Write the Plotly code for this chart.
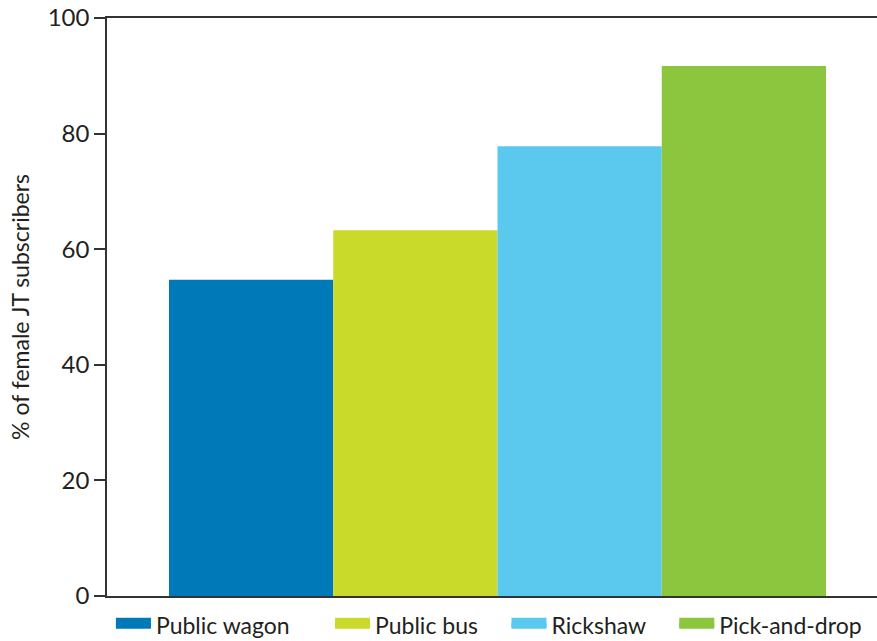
import plotly.graph_objects as go

categories = ["Public wagon", "Public bus", "Rickshaw", "Pick-and-drop"]
values = [54.7, 63.3, 77.8, 91.7]
colors = ["#0079B8", "#C9DA2A", "#5BC9EE", "#8CC63F"]
y_ticks = [0, 20, 40, 60, 80, 100]
legend_pad = [6, 4, 4, 0]  # non-breaking spaces after each legend label

FONT = "Lato"
TXT = "#231F20"

fig = go.Figure()
for name, v, c in zip(categories, values, colors):
    fig.add_trace(go.Bar(x=[0], y=[v], name=name, marker=dict(color=c, line=dict(width=0)),
                         showlegend=False, hoverinfo="name+y"))
# legend swatches (wide rectangles like the reference)
for name, c, p in zip(categories, colors, legend_pad):
    fig.add_trace(go.Scatter(x=[None], y=[None], mode="lines", name=name + "\u00a0" * p,
                             fill="toself", fillcolor=c,
                             line=dict(color=c, width=10), showlegend=True))

fig.update_layout(
    width=877, height=641,
    margin=dict(l=107, r=0, t=18, b=45, autoexpand=False),
    paper_bgcolor="white", plot_bgcolor="white",
    barmode="group", bargap=0.2, bargroupgap=0,
    font=dict(family=FONT, color=TXT, size=22),
    showlegend=True,
    legend=dict(orientation="h", x=-0.0001, xanchor="left", y=-0.05, yanchor="middle",
                font=dict(family=FONT, size=23, color=TXT), itemwidth=35,
                bgcolor="rgba(0,0,0,0)", borderwidth=4, bordercolor="rgba(0,0,0,0)"),
    xaxis=dict(range=[-0.4755, 0.4621], showticklabels=False, ticks="",
               showline=True, linecolor="#333333", linewidth=1.5, mirror=True,
               showgrid=False, zeroline=False, fixedrange=True, automargin=False),
    yaxis=dict(range=[0, 100], tickvals=y_ticks, ticks="outside", ticklen=11,
               tickcolor="#333333", tickwidth=1.5, showline=True, linecolor="#333333",
               linewidth=1.5, showgrid=False, zeroline=False, automargin=False,
               tickfont=dict(family=FONT, size=24, color=TXT),
               title=dict(text="% of female JT subscribers", standoff=12,
                          font=dict(family=FONT, size=23, color=TXT))),
)

fig.write_html("out.html", config={"displayModeBar": False},
               post_script="document.body.style.margin='0';")
